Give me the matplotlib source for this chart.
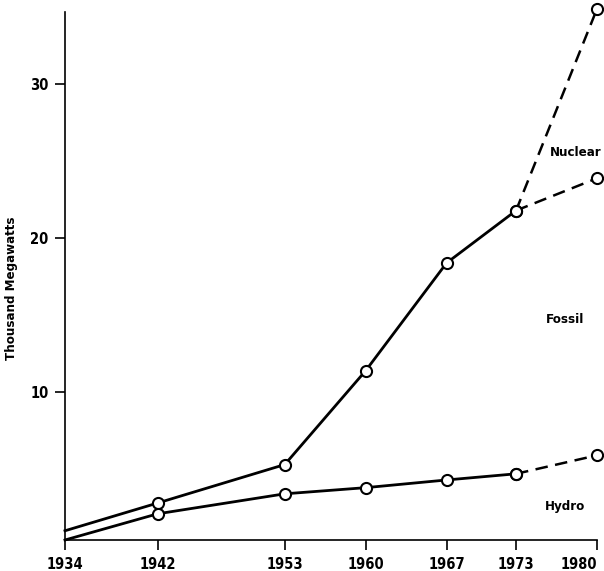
import matplotlib.pyplot as plt

# installed generating capacity, thousand megawatts
years = [1934, 1942, 1953, 1960, 1967, 1973]
total = [1.0, 2.8, 5.3, 11.4, 18.4, 21.8]
hydro = [0.4, 2.1, 3.4, 3.8, 4.3, 4.7]

proj_years = [1973, 1980]
proj_nuclear = [21.8, 34.9]
proj_fossil = [21.8, 23.9]
proj_hydro = [4.7, 5.9]

xticks = [1934, 1942, 1953, 1960, 1967, 1973, 1980]
yticks = [10, 20, 30]

plt.rcParams['font.family'] = ['DejaVu Sans']
plt.rcParams['font.stretch'] = 'condensed'
plt.rcParams['font.weight'] = 'bold'

fig = plt.figure(figsize=(6.04, 5.71), dpi=100)
ax = fig.add_axes([0.1076, 0.0543, 0.8808, 0.9247])

mk = dict(marker='o', markersize=8, markerfacecolor='white',
          markeredgecolor='black', markeredgewidth=1.5, clip_on=False)

# past (solid)
ax.plot(years, total, color='black', lw=2, **dict(mk, markevery=list(range(1, len(years)))))
ax.plot(years, hydro, color='black', lw=2, **dict(mk, markevery=list(range(1, len(years)))))

# projections (dashed)
ax.plot(proj_years, proj_nuclear, color='black', lw=1.8, ls=(0, (5, 3)), zorder=1, **dict(mk, markevery=[1]))
ax.plot(proj_years, proj_fossil, color='black', lw=1.8, ls=(0, (5, 3)), zorder=1, **dict(mk, markevery=[1]))
ax.plot(proj_years, proj_hydro, color='black', lw=1.8, ls=(0, (5, 3)), zorder=1, **dict(mk, markevery=[1]))

# redraw 1973 markers on top of the dashed lines
ax.plot([1973, 1973], [total[-1], hydro[-1]], ls='none', zorder=3, **mk)

ax.set_xlim(1934, 1980)
ax.set_ylim(0.4, 34.7)

ax.set_xticks(xticks)
ax.set_xticklabels([str(x) for x in xticks], fontsize=10.5, fontweight='bold')
ax.get_xticklabels()[-1].set_horizontalalignment('right')
ax.get_xticklabels()[-1].set_x(1980.5)
ax.set_yticks(yticks)
ax.set_yticklabels([str(y) for y in yticks], fontsize=10.5, fontweight='bold')
ax.tick_params(axis='both', direction='out', length=7, width=1.2, pad=5)

for s in ['top', 'right']:
    ax.spines[s].set_visible(False)
for s in ['left', 'bottom']:
    ax.spines[s].set_linewidth(1.2)

ax.set_ylabel('Thousand Megawatts', fontsize=9.5, fontweight='bold')
ax.yaxis.set_label_coords(-0.088, 0.477)

ax.text(1978.2, 25.6, 'Nuclear', fontsize=9.5, fontweight='bold', ha='center', va='center')
ax.text(1977.2, 14.7, 'Fossil', fontsize=9.5, fontweight='bold', ha='center', va='center')
ax.text(1977.2, 2.6, 'Hydro', fontsize=9.5, fontweight='bold', ha='center', va='center')

fig.savefig('out.png', dpi=100)
